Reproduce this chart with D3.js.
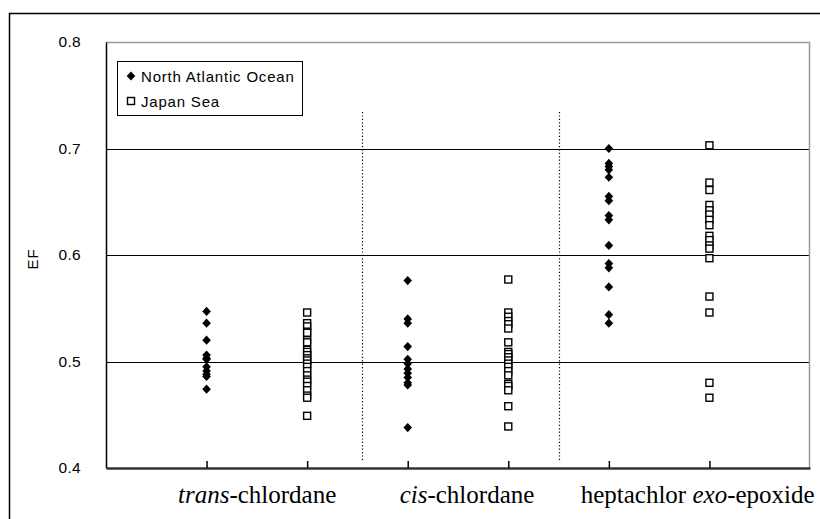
<!DOCTYPE html>
<html><head><meta charset="utf-8">
<script src="https://cdn.jsdelivr.net/npm/d3@7"></script>
<style>body{margin:0;background:#fff}svg{display:block}</style>
</head><body>
<svg id="c" width="820" height="519"></svg>
<script>
const categories = ["trans-chlordane", "cis-chlordane", "heptachlor exo-epoxide"];
const seriesNames = ["North Atlantic Ocean", "Japan Sea"];
const yTicks = [0.4, 0.5, 0.6, 0.7, 0.8];
const xTickPositions = [1, 2, 3, 4, 5, 6];
const separators = [2.55, 4.5];
const transNA = [0.547, 0.536, 0.520, 0.506, 0.503, 0.502, 0.495, 0.491, 0.488, 0.486, 0.474];
const transJS = [0.546, 0.536, 0.533, 0.528, 0.527, 0.520, 0.518, 0.511, 0.509, 0.506, 0.503, 0.501, 0.498, 0.495, 0.491, 0.487, 0.483, 0.481, 0.477, 0.473, 0.468, 0.466, 0.449];
const cisNA = [0.576, 0.540, 0.536, 0.514, 0.502, 0.498, 0.493, 0.489, 0.485, 0.480, 0.478, 0.438];
const cisJS = [0.577, 0.546, 0.542, 0.538, 0.535, 0.531, 0.518, 0.509, 0.507, 0.504, 0.501, 0.498, 0.495, 0.491, 0.487, 0.479, 0.477, 0.473, 0.458, 0.439];
const heptNA = [0.700, 0.686, 0.683, 0.680, 0.673, 0.655, 0.651, 0.637, 0.633, 0.609, 0.592, 0.588, 0.570, 0.544, 0.536];
const heptJS = [0.703, 0.668, 0.661, 0.647, 0.642, 0.638, 0.633, 0.628, 0.618, 0.614, 0.609, 0.606, 0.597, 0.561, 0.546, 0.480, 0.466];

const columns = [
  {x: 1, s: 0, v: transNA}, {x: 2, s: 1, v: transJS},
  {x: 3, s: 0, v: cisNA}, {x: 4, s: 1, v: cisJS},
  {x: 5, s: 0, v: heptNA}, {x: 6, s: 1, v: heptJS}
];

const svg = d3.select("#c");
const L = 106, R = 810, T = 42, B = 468;
const x = d3.scaleLinear().domain([0, 7]).range([L, R]);
const y = d3.scaleLinear().domain([0.4, 0.8]).range([B, T]);

svg.append("rect").attr("x", 9.5).attr("y", 13.5).attr("width", 830).attr("height", 530)
  .attr("fill", "none").attr("stroke", "#000").attr("stroke-width", 1.5);

svg.append("g").selectAll("line").data([0.5, 0.6, 0.7]).join("line")
  .attr("x1", L).attr("x2", R).attr("y1", d => Math.round(y(d)) + 0.5).attr("y2", d => Math.round(y(d)) + 0.5)
  .attr("stroke", "#000").attr("stroke-width", 1);

svg.append("path").attr("d", `M${L},${T+0.5}H${R-0.5}V${B}`).attr("fill", "none")
  .attr("stroke", "#999").attr("stroke-width", 1.5);

svg.append("g").selectAll("line").data(separators).join("line")
  .attr("x1", d => Math.round(x(d)) + 0.5).attr("x2", d => Math.round(x(d)) + 0.5)
  .attr("y1", T + 70).attr("y2", B - 8)
  .attr("stroke", "#000").attr("stroke-width", 1.2).attr("stroke-dasharray", "1.2,2.2");

const yAxis = svg.append("g").attr("transform", `translate(${L},0)`)
  .call(d3.axisLeft(y).tickValues(yTicks).tickFormat(d3.format(".1f")).tickSize(0).tickPadding(25));
yAxis.select(".domain").attr("stroke", "#000").attr("stroke-width", 1.5);
yAxis.selectAll("text").attr("font-family", "Liberation Sans, Arial, sans-serif").attr("font-size", 15.5)
  .attr("fill", "#000").attr("letter-spacing", 0.3);

const xAxis = svg.append("g").attr("transform", `translate(0,${B})`)
  .call(d3.axisTop(x).tickValues(xTickPositions).tickFormat("").tickSizeInner(7).tickSizeOuter(0));
xAxis.select(".domain").attr("stroke", "#333").attr("stroke-width", 2.5);
xAxis.selectAll(".tick line").attr("stroke", "#000").attr("stroke-width", 1.5);

const catG = svg.append("g").attr("font-family", "Liberation Serif, Times New Roman, serif").attr("font-size", 25).attr("fill", "#000");
const catParts = [
  [["trans", true], ["-chlordane", false]],
  [["cis", true], ["-chlordane", false]],
  [["heptachlor ", false], ["exo", true], ["-epoxide", false]]
];
const catStart = [0.716, 2.92, 4.72];
categories.forEach((c, i) => {
  const t = catG.append("text").attr("x", x(catStart[i])).attr("y", 503).attr("text-anchor", "start");
  catParts[i].forEach(([s, it]) => t.append("tspan").text(s).attr("font-style", it ? "italic" : "normal"));
});

svg.append("text").attr("transform", "translate(38,259) rotate(-90)").attr("text-anchor", "middle")
  .attr("font-family", "Liberation Sans, Arial, sans-serif").attr("font-size", 15).attr("letter-spacing", 1).text("EF");

function drawMarker(g, s, cx, cy) {
  if (s === 0) {
    g.append("path").attr("d", "M0,-4.6L4.3,0L0,4.6L-4.3,0Z").attr("transform", `translate(${cx},${cy})`).attr("fill", "#000");
  } else {
    g.append("rect").attr("x", cx - 3.5).attr("y", cy - 3.5).attr("width", 7).attr("height", 7)
      .attr("fill", "#fff").attr("stroke", "#000").attr("stroke-width", 1.4);
  }
}
const mg = svg.append("g");
columns.forEach(col => {
  col.v.forEach(v => drawMarker(mg, col.s, x(col.x), y(v)));
});

const lg = svg.append("g");
lg.append("rect").attr("x", 117.5).attr("y", 61.5).attr("width", 185).attr("height", 54)
  .attr("fill", "#fff").attr("stroke", "#000").attr("stroke-width", 1);
seriesNames.forEach((n, i) => {
  const cy = 76 + i * 25;
  drawMarker(lg, i, 131, cy);
  lg.append("text").attr("x", 141).attr("y", cy + 5.5).attr("font-family", "Liberation Sans, Arial, sans-serif")
    .attr("font-size", 15).attr("letter-spacing", 0.8).text(n);
});
</script>
</body></html>
